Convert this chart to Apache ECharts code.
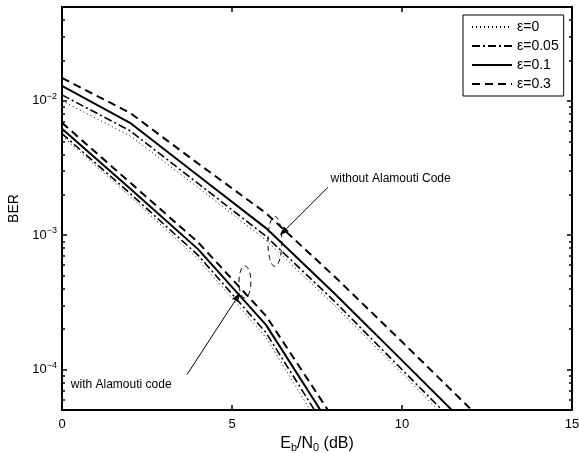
<!DOCTYPE html>
<html><head><meta charset="utf-8">
<script src="https://cdn.jsdelivr.net/npm/echarts@6/dist/echarts.min.js"></script>
<style>html,body{margin:0;padding:0;background:#fff}#c{width:579px;height:453px}</style>
</head><body><div id="c"></div>
<script>
// ---- data ----
const snrDb = [0, 2, 4, 6, 8, 10, 12];
const snrDbAlamouti = [0, 2, 4, 6, 8];
const epsLabels = ['ε=0', 'ε=0.05', 'ε=0.1', 'ε=0.3'];
// BER without Alamouti code
const berNoCode_e0   = [0.0100, 0.00550, 0.00227, 9.18e-4, 3.03e-4, 9.34e-5, 2.88e-5];
const berNoCode_e005 = [0.01108, 0.00600, 0.00243, 9.83e-4, 3.25e-4, 1.00e-4, 3.08e-5];
const berNoCode_e01  = [0.01292, 0.00687, 0.00278, 1.13e-3, 3.72e-4, 1.17e-4, 3.66e-5];
const berNoCode_e03  = [0.01481, 0.00815, 0.00342, 1.46e-3, 4.97e-4, 1.61e-4, 5.14e-5];
// BER with Alamouti code
const berAlam_e0   = [0.00550, 0.00195, 6.64e-4, 1.73e-4, 2.56e-5];
const berAlam_e005 = [0.00570, 0.00205, 7.11e-4, 1.88e-4, 2.93e-5];
const berAlam_e01  = [0.00620, 0.00223, 7.88e-4, 2.15e-4, 3.47e-5];
const berAlam_e03  = [0.00687, 0.00247, 8.87e-4, 2.51e-4, 4.26e-5];
// axis ticks
const xTicks = [0, 5, 10, 15];
const yMajor = [1e-4, 1e-3, 1e-2];
const yMinor = [6e-5, 7e-5, 8e-5, 9e-5, 2e-4, 3e-4, 4e-4, 5e-4, 6e-4, 7e-4, 8e-4, 9e-4,
                2e-3, 3e-3, 4e-3, 5e-3, 6e-3, 7e-3, 8e-3, 9e-3, 2e-2, 3e-2, 4e-2];
// annotations (data coordinates)
const noteWithout = {text: 'without Alamouti Code', at: [7.9, 2.64e-3], tail: [7.82, 2.27e-3], tip: [6.41, 1.0e-3], ell: [6.26, 9.0e-4]};
const noteWith = {text: 'with Alamouti code', at: [0.26, 7.74e-5], tail: [3.68, 9.2e-5], tip: [5.24, 3.72e-4], ell: [5.38, 4.49e-4]};

// ---- styles ----
const FONT = '"Liberation Sans", Arial, Helvetica, sans-serif';
const lineStyles = [
  {type: [1, 3], width: 1},
  {type: [8, 3, 2, 3], width: 1.6},
  {type: 'solid', width: 2},
  {type: [8, 5], width: 2}
];
const noCode = [berNoCode_e0, berNoCode_e005, berNoCode_e01, berNoCode_e03];
const alam = [berAlam_e0, berAlam_e005, berAlam_e01, berAlam_e03];

const series = [];
epsLabels.forEach((name, i) => {
  [[snrDb, noCode[i]], [snrDbAlamouti, alam[i]]].forEach(([xs, ys]) => {
    series.push({
      name, type: 'line', symbol: 'none', smooth: false, clip: true,
      xAxisIndex: 0, yAxisIndex: 0,
      lineStyle: Object.assign({color: '#000', cap: 'butt'}, lineStyles[i]),
      itemStyle: {color: '#000'},
      data: xs.map((x, k) => [x, ys[k]])
    });
  });
});

const supRich = {
  b: {fontSize: 13, fontFamily: FONT, color: '#000'},
  s: {fontSize: 9, fontFamily: FONT, color: '#000', padding: [0, 0, 9, 0]}
};
const yFmt = v => '{b|10}{s|−' + Math.round(-Math.log10(v)) + '}';

const axisLineStyle = {color: '#000', width: 2};
const mkX = (pos, show) => ({
  type: 'value', min: 0, max: 15, interval: 5, position: pos,
  axisLine: {show: true, onZero: false, lineStyle: axisLineStyle},
  axisTick: {show: true, inside: true, length: 5, lineStyle: {color: '#000', width: 1.5}},
  axisLabel: {show: show, color: '#000', fontSize: 13, fontFamily: FONT, margin: 8, customValues: xTicks},
  splitLine: {show: false}
});
const mkY = (pos, show, ticks, len, line) => ({
  type: 'log', logBase: 10, min: 5e-5, max: 5e-2, position: pos,
  axisLine: {show: line, onZero: false, lineStyle: axisLineStyle},
  axisTick: {show: true, inside: true, length: len, customValues: ticks, lineStyle: {color: '#000', width: 1.5}},
  axisLabel: {show: show, customValues: ticks, formatter: yFmt, rich: supRich, margin: 5},
  splitLine: {show: false}, minorTick: {show: false}
});

const xA0 = mkX('bottom', true);
Object.assign(xA0, {
  name: '{n|E}{s|b}{n|/N}{s|0}{n| (dB)}', nameLocation: 'middle', nameGap: 22,
  nameTextStyle: {rich: {
    n: {fontSize: 16, fontFamily: FONT, color: '#000'},
    s: {fontSize: 11, fontFamily: FONT, color: '#000', padding: [9, 0, 0, 0]}
  }}
});
const yA0 = mkY('left', true, yMajor, 5, true);
Object.assign(yA0, {
  name: 'BER', nameLocation: 'middle', nameGap: 40,
  nameTextStyle: {fontSize: 14, fontFamily: FONT, color: '#000'}
});

const chart = echarts.init(document.getElementById('c'), null, {renderer: 'canvas'});
chart.setOption({
  animation: false,
  backgroundColor: '#fff',
  grid: {left: 62, right: 7, top: 7, bottom: 43, containLabel: false, outerBoundsMode: 'none'},
  xAxis: [xA0, mkX('top', false)],
  yAxis: [yA0, mkY('right', false, yMajor, 5, true),
          mkY('left', false, yMinor, 3, false), mkY('right', false, yMinor, 3, false)],
  legend: {
    data: epsLabels, orient: 'vertical', left: 463, top: 15,
    itemWidth: 40, itemHeight: 14, itemGap: 5,
    padding: [5, 5, 5, 8],
    borderColor: '#000', borderWidth: 1, backgroundColor: '#fff',
    itemStyle: {opacity: 0, borderWidth: 0},
    textStyle: {fontSize: 14, fontFamily: FONT, color: '#000', lineHeight: 14},
    selectedMode: false
  },
  series
});

// annotations
function px(p) { return chart.convertToPixel({xAxisIndex: 0, yAxisIndex: 0}, p); }
function arrow(tail, tip) {
  const a = px(tail), b = px(tip);
  const dx = b[0] - a[0], dy = b[1] - a[1], L = Math.hypot(dx, dy);
  const ux = dx / L, uy = dy / L, hl = 9, hw = 3.5;
  const bx = b[0] - ux * hl, by = b[1] - uy * hl;
  return [
    {type: 'line', shape: {x1: a[0], y1: a[1], x2: bx, y2: by}, style: {stroke: '#000', lineWidth: 1}},
    {type: 'polygon', shape: {points: [[b[0], b[1]], [bx - uy * hw, by + ux * hw], [bx + uy * hw, by - ux * hw]]}, style: {fill: '#000'}}
  ];
}
function note(n, rx, ry) {
  const t = px(n.at), e = px(n.ell);
  return [
    {type: 'text', x: t[0], y: t[1], style: {text: n.text, fill: '#000', fontSize: 12, fontFamily: FONT, verticalAlign: 'middle', align: 'left'}},
    {type: 'ellipse', shape: {cx: e[0], cy: e[1], rx, ry}, style: {fill: 'none', stroke: '#000', lineWidth: 1, lineDash: [5, 4]}}
  ].concat(arrow(n.tail, n.tip));
}
chart.setOption({graphic: {elements: note(noteWithout, 7, 25).concat(note(noteWith, 6, 16))}});
</script></body></html>
